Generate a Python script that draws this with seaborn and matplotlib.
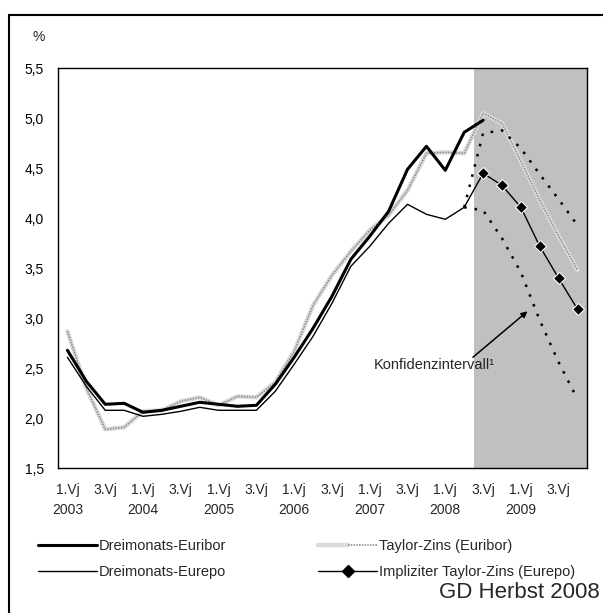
import numpy as np
import pandas as pd
import matplotlib
matplotlib.use("Agg")
import matplotlib.pyplot as plt
import seaborn as sns
from matplotlib.lines import Line2D
from matplotlib.patches import Rectangle
from matplotlib.legend_handler import HandlerTuple

# ---------------- data ----------------
years = [2003, 2004, 2005, 2006, 2007, 2008, 2009]
quarter_names = ["1.Vj", "2.Vj", "3.Vj", "4.Vj"]

euribor = [2.68, 2.37, 2.14, 2.15, 2.06, 2.08, 2.12, 2.16, 2.14, 2.12, 2.13, 2.34,
           2.61, 2.90, 3.22, 3.59, 3.82, 4.07, 4.49, 4.72, 4.48, 4.86, 4.98]
eurepo = [2.61, 2.32, 2.08, 2.08, 2.02, 2.04, 2.07, 2.11, 2.08, 2.08, 2.08, 2.27,
          2.54, 2.82, 3.15, 3.52, 3.72, 3.95, 4.14, 4.04, 3.99, 4.11]
taylor = [2.87, 2.30, 1.89, 1.91, 2.07, 2.08, 2.17, 2.21, 2.13, 2.22, 2.21, 2.36,
          2.67, 3.13, 3.43, 3.67, 3.88, 4.03, 4.28, 4.65, 4.66, 4.65, 5.05, 4.95,
          4.57, 4.18, 3.82, 3.48]
# forecast part, starting from 2. Vj 2008 (last observed Eurepo value)
implied = [4.11, 4.45, 4.33, 4.11, 3.72, 3.40, 3.09]
ci_upper = [4.11, 4.85, 4.88, 4.70, 4.44, 4.19, 3.93]
ci_lower = [4.11, 4.08, 3.80, 3.46, 2.98, 2.56, 2.19]
forecast_start = 21  # index of 2. Vj 2008

y_ticks = [1.5, 2.0, 2.5, 3.0, 3.5, 4.0, 4.5, 5.0, 5.5]

# ---------------- setup ----------------
sns.set_style("white")
plt.rcParams["font.family"] = ["Liberation Sans", "DejaVu Sans"]
plt.rcParams["font.size"] = 10

FS_TICK = 10
FS_TEXT = 10.5

W, H = 603, 613
fig = plt.figure(figsize=(W / 100, H / 100), dpi=100)
ax = fig.add_axes([58 / W, (H - 468.3) / H, 529 / W, 400 / H])

n_q = len(years) * 4
q_labels = [f"{q} {y}" for y in years for q in quarter_names]
xs_all = np.arange(n_q)

df_eur = pd.DataFrame({"x": xs_all[:len(euribor)], "v": euribor})
df_rep = pd.DataFrame({"x": xs_all[:len(eurepo)], "v": eurepo})
df_tay = pd.DataFrame({"x": xs_all[:len(taylor)], "v": taylor})
xf = xs_all[forecast_start:forecast_start + len(implied)]
df_imp = pd.DataFrame({"x": xf, "v": implied})
df_up = pd.DataFrame({"x": xf, "v": ci_upper})
df_lo = pd.DataFrame({"x": xf, "v": ci_lower})

TAY_BASE = "#dadada"
TAY_DASH = "#8a8a8a"

# shaded forecast area
ax.axvspan(forecast_start + 0.5, n_q - 0.5, color="#c0c0c0", lw=0, zorder=0)

# Taylor-Zins (textured grey)
sns.lineplot(data=df_tay, x="x", y="v", ax=ax, color=TAY_BASE, lw=3.2, zorder=3,
             legend=False)
sns.lineplot(data=df_tay, x="x", y="v", ax=ax, color=TAY_DASH, lw=1.1, zorder=3.1,
             linestyle=(0, (1.0, 0.8)), legend=False)
# Eurepo thin black
sns.lineplot(data=df_rep, x="x", y="v", ax=ax, color="black", lw=1.0, zorder=4,
             legend=False)
# Euribor thick black
sns.lineplot(data=df_eur, x="x", y="v", ax=ax, color="black", lw=2.2, zorder=5,
             legend=False)
# confidence interval dotted
for d in (df_up, df_lo):
    sns.lineplot(data=d, x="x", y="v", ax=ax, color="black", lw=1.8, zorder=4,
                 linestyle=(0, (1, 3.2)), legend=False)
# implied Taylor rate with diamonds
sns.lineplot(data=df_imp, x="x", y="v", ax=ax, color="black", lw=1.0, zorder=6,
             marker="D", markersize=6.5, markevery=list(range(1, len(implied))),
             legend=False)

# ---------------- axes ----------------
ax.set_xlim(-0.5, n_q - 0.5)
ax.set_ylim(1.5, 5.5)
ax.set_xlabel("")
ax.set_ylabel("")
ax.set_yticks(y_ticks)
ax.set_yticklabels([f"{v:.1f}".replace(".", ",") for v in y_ticks])

ax.set_xticks(np.arange(-0.5, n_q, 1.0))
ax.set_xticklabels([])
minor_pos = xs_all[::2]
minor_lab = []
for i in minor_pos:
    q, y = q_labels[i].split(" ")
    minor_lab.append(f"{q}\n{y}" if q == "1.Vj" else q)
ax.set_xticks(minor_pos, minor=True)
ax.set_xticklabels(minor_lab, minor=True, linespacing=1.55, ha="center")

ax.tick_params(axis="both", which="major", direction="inout", length=8, width=1.0,
               color="black", labelsize=FS_TICK, labelcolor="black")
ax.tick_params(axis="y", which="major", pad=6)
ax.tick_params(axis="x", which="minor", length=0, pad=10.5, labelsize=FS_TICK)
for s in ax.spines.values():
    s.set_visible(True)
    s.set_color("black")
    s.set_linewidth(1.0)
    s.set_zorder(10)

# annotation: arrow and text
ax.annotate("", xy=(24.35, 3.07), xytext=(21.46, 2.61), zorder=12,
            arrowprops=dict(arrowstyle="-|>", color="black", lw=1.1,
                            mutation_scale=9, shrinkA=0, shrinkB=0))
ax.text(19.42, 2.53, "Konfidenzintervall\u00b9", ha="center", va="center",
        fontsize=FS_TEXT, zorder=12)

# % label
fig.text(39 / W, 1 - 37 / H, "%", ha="center", va="center", fontsize=FS_TICK)

# ---------------- legend ----------------
h_eur = Line2D([], [], color="black", lw=2.2)
h_rep = Line2D([], [], color="black", lw=1.0)
h_tay = (Line2D([], [], color=TAY_BASE, lw=3.2),
         Line2D([], [], color=TAY_DASH, lw=1.1, linestyle=(0, (1.0, 0.8))))
h_imp = Line2D([], [], color="black", lw=1.0, marker="D", markersize=6.5)
leg = fig.legend([h_eur, h_rep, h_tay, h_imp],
                 ["Dreimonats-Euribor", "Dreimonats-Eurepo",
                  "Taylor-Zins (Euribor)", "Impliziter Taylor-Zins (Eurepo)"],
                 ncol=2, loc="upper left", bbox_to_anchor=(38 / W, 1 - 539 / H),
                 frameon=False, fontsize=FS_TEXT, handlelength=4.05,
                 handletextpad=0.14, columnspacing=6.3, labelspacing=0.85,
                 borderaxespad=0, borderpad=0,
                 handler_map={tuple: HandlerTuple(ndivide=None)})

# source note
fig.text(600 / W, 1 - 592 / H, "GD Herbst 2008", ha="right", va="center",
         fontsize=16)

# outer frame
fig.patches.append(Rectangle((8.5 / W, -0.05), 1.2, 1 - 14.5 / H + 0.05,
                             transform=fig.transFigure, fill=False,
                             edgecolor="black", lw=1.5, clip_on=False))

fig.savefig("out.png", dpi=100)
